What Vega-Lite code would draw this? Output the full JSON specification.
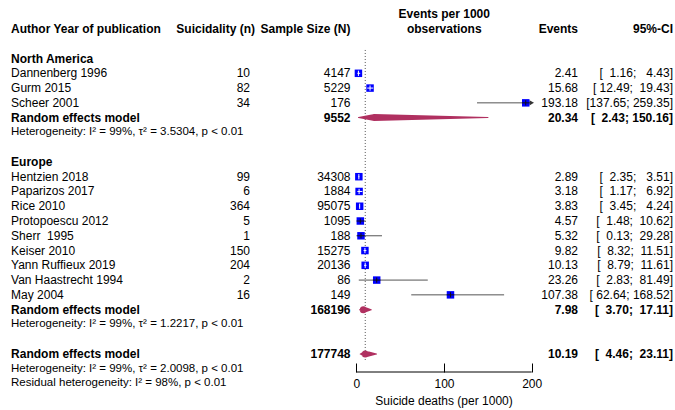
{
  "$schema": "https://vega.github.io/schema/vega-lite/v6.json",
  "width": 675,
  "height": 372,
  "autosize": {"type": "none"},
  "padding": {"left": 0, "right": 0, "top": 0, "bottom": 38},
  "config": {
    "view": {"stroke": null},
    "text": {"font": "Liberation Sans", "fontSize": 12, "color": "black", "baseline": "middle"},
    "axis": {"labelFont": "Liberation Sans"}
  },
  "data": {
    "values": [
      {"row": 0, "kind": "header", "label": "Author Year of publication", "N": "Sample Size (N)", "ev": "Events", "ci": "95%-CI"},
      {"row": 2, "kind": "group", "label": "North America"},
      {"row": 3, "kind": "study", "label": "Dannenberg 1996", "n": "10", "N": "4147", "est": 2.41, "lo": 1.16, "hi": 4.43, "ev": "2.41", "ci": "[\u00a0\u00a01.16;\u00a0\u00a0\u00a04.43]"},
      {"row": 4, "kind": "study", "label": "Gurm 2015", "n": "82", "N": "5229", "est": 15.68, "lo": 12.49, "hi": 19.43, "ev": "15.68", "ci": "[\u00a012.49;\u00a0\u00a019.43]"},
      {"row": 5, "kind": "study", "label": "Scheer 2001", "n": "34", "N": "176", "est": 193.18, "lo": 137.65, "hi": 259.35, "ev": "193.18", "ci": "[137.65;\u00a0259.35]"},
      {"row": 6, "kind": "model", "label": "Random effects model", "N": "9552", "est": 20.34, "lo": 2.43, "hi": 150.16, "ev": "20.34", "ci": "[\u00a0\u00a02.43;\u00a0150.16]"},
      {"row": 7, "kind": "het", "label": "Heterogeneity: I² = 99%, τ² = 3.5304, p < 0.01"},
      {"row": 9, "kind": "group", "label": "Europe"},
      {"row": 10, "kind": "study", "label": "Hentzien 2018", "n": "99", "N": "34308", "est": 2.89, "lo": 2.35, "hi": 3.51, "ev": "2.89", "ci": "[\u00a0\u00a02.35;\u00a0\u00a0\u00a03.51]"},
      {"row": 11, "kind": "study", "label": "Paparizos 2017", "n": "6", "N": "1884", "est": 3.18, "lo": 1.17, "hi": 6.92, "ev": "3.18", "ci": "[\u00a0\u00a01.17;\u00a0\u00a0\u00a06.92]"},
      {"row": 12, "kind": "study", "label": "Rice 2010", "n": "364", "N": "95075", "est": 3.83, "lo": 3.45, "hi": 4.24, "ev": "3.83", "ci": "[\u00a0\u00a03.45;\u00a0\u00a0\u00a04.24]"},
      {"row": 13, "kind": "study", "label": "Protopoescu 2012", "n": "5", "N": "1095", "est": 4.57, "lo": 1.48, "hi": 10.62, "ev": "4.57", "ci": "[\u00a0\u00a01.48;\u00a0\u00a010.62]"},
      {"row": 14, "kind": "study", "label": "Sherr\u00a0 1995", "n": "1", "N": "188", "est": 5.32, "lo": 0.13, "hi": 29.28, "ev": "5.32", "ci": "[\u00a0\u00a00.13;\u00a0\u00a029.28]"},
      {"row": 15, "kind": "study", "label": "Keiser 2010", "n": "150", "N": "15275", "est": 9.82, "lo": 8.32, "hi": 11.51, "ev": "9.82", "ci": "[\u00a0\u00a08.32;\u00a0\u00a011.51]"},
      {"row": 16, "kind": "study", "label": "Yann Ruffieux 2019", "n": "204", "N": "20136", "est": 10.13, "lo": 8.79, "hi": 11.61, "ev": "10.13", "ci": "[\u00a0\u00a08.79;\u00a0\u00a011.61]"},
      {"row": 17, "kind": "study", "label": "Van Haastrecht 1994", "n": "2", "N": "86", "est": 23.26, "lo": 2.83, "hi": 81.49, "ev": "23.26", "ci": "[\u00a0\u00a02.83;\u00a0\u00a081.49]"},
      {"row": 18, "kind": "study", "label": "May 2004", "n": "16", "N": "149", "est": 107.38, "lo": 62.64, "hi": 168.52, "ev": "107.38", "ci": "[\u00a062.64;\u00a0168.52]"},
      {"row": 19, "kind": "model", "label": "Random effects model", "N": "168196", "est": 7.98, "lo": 3.70, "hi": 17.11, "ev": "7.98", "ci": "[\u00a0\u00a03.70;\u00a0\u00a017.11]"},
      {"row": 20, "kind": "het", "label": "Heterogeneity: I² = 99%, τ² = 1.2217, p < 0.01"},
      {"row": 22, "kind": "model", "label": "Random effects model", "N": "177748", "est": 10.19, "lo": 4.46, "hi": 23.11, "ev": "10.19", "ci": "[\u00a0\u00a04.46;\u00a0\u00a023.11]"},
      {"row": 23, "kind": "het", "label": "Heterogeneity: I² = 99%, τ² = 2.0098, p < 0.01"},
      {"row": 24, "kind": "het", "label": "Residual heterogeneity: I² = 98%, p < 0.01"}
    ]
  },
  "layer": [
    {
      "data": {"values": [{"ref": 10.19}]},
      "mark": {"type": "rule", "strokeDash": [1, 2], "color": "#555555", "strokeWidth": 1},
      "encoding": {
        "x": {"field": "ref", "type": "quantitative", "scale": {"domain": [-406.3, 363.4], "nice": false, "zero": false}, "axis": {"values": [0, 100, 200], "domain": false, "grid": false, "tickSize": -9, "tickColor": "black", "labelFontSize": 12, "labelColor": "black", "labelPadding": 15, "title": null, "labelFont": "Liberation Sans"}},
        "y": {"datum": 1.42, "type": "quantitative", "scale": {"domain": [-1.9635, 23.223], "nice": false, "zero": false, "reverse": true}, "axis": null},
        "y2": {"datum": 22.5}
      }
    },
    {
      "data": {"values": [{"a": 0, "b": 200}]},
      "mark": {"type": "rule", "color": "black", "strokeWidth": 1},
      "encoding": {
        "x": {"field": "a", "type": "quantitative", "scale": {"domain": [-406.3, 363.4], "nice": false, "zero": false}, "axis": {"values": [0, 100, 200], "domain": false, "grid": false, "tickSize": -9, "tickColor": "black", "labelFontSize": 12, "labelColor": "black", "labelPadding": 15, "title": null, "labelFont": "Liberation Sans"}},
        "x2": {"field": "b"},
        "y": {"datum": 23.223, "type": "quantitative", "scale": {"domain": [-1.9635, 23.223], "nice": false, "zero": false, "reverse": true}, "axis": null}
      }
    },
    {
      "transform": [{"filter": "datum.kind === 'study'"}, {"calculate": "min(datum.hi, 200)", "as": "hic"}],
      "mark": {"type": "rule", "color": "#555555", "strokeWidth": 1},
      "encoding": {
        "x": {"field": "lo", "type": "quantitative", "scale": {"domain": [-406.3, 363.4], "nice": false, "zero": false}, "axis": {"values": [0, 100, 200], "domain": false, "grid": false, "tickSize": -9, "tickColor": "black", "labelFontSize": 12, "labelColor": "black", "labelPadding": 15, "title": null, "labelFont": "Liberation Sans"}},
        "x2": {"field": "hic"},
        "y": {"field": "row", "type": "quantitative", "scale": {"domain": [-1.9635, 23.223], "nice": false, "zero": false, "reverse": true}, "axis": null}
      }
    },
    {
      "transform": [{"filter": "datum.kind === 'study' && datum.hi > 200"}],
      "mark": {"type": "point", "shape": "triangle-right", "filled": true, "color": "#333333", "size": 28, "opacity": 1},
      "encoding": {
        "x": {"datum": 200, "type": "quantitative", "scale": {"domain": [-406.3, 363.4], "nice": false, "zero": false}, "axis": {"values": [0, 100, 200], "domain": false, "grid": false, "tickSize": -9, "tickColor": "black", "labelFontSize": 12, "labelColor": "black", "labelPadding": 15, "title": null, "labelFont": "Liberation Sans"}},
        "y": {"field": "row", "type": "quantitative", "scale": {"domain": [-1.9635, 23.223], "nice": false, "zero": false, "reverse": true}, "axis": null}
      }
    },
    {
      "transform": [{"filter": "datum.kind === 'study'"}],
      "mark": {"type": "point", "shape": "square", "filled": true, "color": "#0000ff", "size": 56, "opacity": 1},
      "encoding": {
        "x": {"field": "est", "type": "quantitative", "scale": {"domain": [-406.3, 363.4], "nice": false, "zero": false}, "axis": {"values": [0, 100, 200], "domain": false, "grid": false, "tickSize": -9, "tickColor": "black", "labelFontSize": 12, "labelColor": "black", "labelPadding": 15, "title": null, "labelFont": "Liberation Sans"}},
        "y": {"field": "row", "type": "quantitative", "scale": {"domain": [-1.9635, 23.223], "nice": false, "zero": false, "reverse": true}, "axis": null}
      }
    },
    {
      "transform": [{"filter": "datum.kind === 'study' && (datum.hi - datum.est) < 4.2 && (datum.est - datum.lo) < 4.2"}],
      "mark": {"type": "rule", "color": "white", "strokeWidth": 1},
      "encoding": {
        "x": {"field": "lo", "type": "quantitative", "scale": {"domain": [-406.3, 363.4], "nice": false, "zero": false}, "axis": {"values": [0, 100, 200], "domain": false, "grid": false, "tickSize": -9, "tickColor": "black", "labelFontSize": 12, "labelColor": "black", "labelPadding": 15, "title": null, "labelFont": "Liberation Sans"}},
        "x2": {"field": "hi"},
        "y": {"field": "row", "type": "quantitative", "scale": {"domain": [-1.9635, 23.223], "nice": false, "zero": false, "reverse": true}, "axis": null}
      }
    },
    {
      "transform": [{"filter": "datum.kind === 'study' && (datum.hi - datum.est) < 4.2 && (datum.est - datum.lo) < 4.2"}],
      "mark": {"type": "point", "shape": "M0,-0.7L0,0.7", "filled": false, "stroke": "white", "strokeWidth": 1, "size": 56, "opacity": 1},
      "encoding": {
        "x": {"field": "est", "type": "quantitative", "scale": {"domain": [-406.3, 363.4], "nice": false, "zero": false}, "axis": {"values": [0, 100, 200], "domain": false, "grid": false, "tickSize": -9, "tickColor": "black", "labelFontSize": 12, "labelColor": "black", "labelPadding": 15, "title": null, "labelFont": "Liberation Sans"}},
        "y": {"field": "row", "type": "quantitative", "scale": {"domain": [-1.9635, 23.223], "nice": false, "zero": false, "reverse": true}, "axis": null}
      }
    },
    {
      "transform": [{"filter": "datum.kind === 'study' && !((datum.hi - datum.est) < 4.2 && (datum.est - datum.lo) < 4.2)"}],
      "mark": {"type": "point", "shape": "M-1,0L1,0M0,-0.7L0,0.7", "filled": false, "stroke": "#111111", "strokeWidth": 1, "size": 56, "opacity": 1},
      "encoding": {
        "x": {"field": "est", "type": "quantitative", "scale": {"domain": [-406.3, 363.4], "nice": false, "zero": false}, "axis": {"values": [0, 100, 200], "domain": false, "grid": false, "tickSize": -9, "tickColor": "black", "labelFontSize": 12, "labelColor": "black", "labelPadding": 15, "title": null, "labelFont": "Liberation Sans"}},
        "y": {"field": "row", "type": "quantitative", "scale": {"domain": [-1.9635, 23.223], "nice": false, "zero": false, "reverse": true}, "axis": null}
      }
    },
    {
      "transform": [{"filter": "datum.kind === 'model'"}, {"fold": ["lo", "est", "hi"], "as": ["role", "xv"]}],
      "mark": {"type": "trail", "color": "#B03060", "opacity": 1},
      "encoding": {
        "x": {"field": "xv", "type": "quantitative", "scale": {"domain": [-406.3, 363.4], "nice": false, "zero": false}, "axis": {"values": [0, 100, 200], "domain": false, "grid": false, "tickSize": -9, "tickColor": "black", "labelFontSize": 12, "labelColor": "black", "labelPadding": 15, "title": null, "labelFont": "Liberation Sans"}},
        "y": {"field": "row", "type": "quantitative", "scale": {"domain": [-1.9635, 23.223], "nice": false, "zero": false, "reverse": true}, "axis": null},
        "detail": {"field": "row", "type": "nominal"},
        "order": {"field": "xv", "type": "quantitative"},
        "size": {"condition": {"test": "datum.role === 'est'", "value": 7}, "value": 0}
      }
    },
    {
      "transform": [{"filter": "datum.kind === 'study'"}],
      "mark": {"type": "text", "align": "left"},
      "encoding": {
        "x": {"datum": -393.7, "type": "quantitative", "scale": {"domain": [-406.3, 363.4], "nice": false, "zero": false}, "axis": {"values": [0, 100, 200], "domain": false, "grid": false, "tickSize": -9, "tickColor": "black", "labelFontSize": 12, "labelColor": "black", "labelPadding": 15, "title": null, "labelFont": "Liberation Sans"}},
        "y": {"field": "row", "type": "quantitative", "scale": {"domain": [-1.9635, 23.223], "nice": false, "zero": false, "reverse": true}, "axis": null},
        "text": {"field": "label"}
      }
    },
    {
      "transform": [{"filter": "datum.kind === 'group' || datum.kind === 'model' || datum.kind === 'header'"}],
      "mark": {"type": "text", "align": "left", "fontWeight": "bold"},
      "encoding": {
        "x": {"datum": -393.7, "type": "quantitative", "scale": {"domain": [-406.3, 363.4], "nice": false, "zero": false}, "axis": {"values": [0, 100, 200], "domain": false, "grid": false, "tickSize": -9, "tickColor": "black", "labelFontSize": 12, "labelColor": "black", "labelPadding": 15, "title": null, "labelFont": "Liberation Sans"}},
        "y": {"field": "row", "type": "quantitative", "scale": {"domain": [-1.9635, 23.223], "nice": false, "zero": false, "reverse": true}, "axis": null},
        "text": {"field": "label"}
      }
    },
    {
      "transform": [{"filter": "datum.kind === 'het'"}],
      "mark": {"type": "text", "align": "left", "fontSize": 11.5},
      "encoding": {
        "x": {"datum": -393.7, "type": "quantitative", "scale": {"domain": [-406.3, 363.4], "nice": false, "zero": false}, "axis": {"values": [0, 100, 200], "domain": false, "grid": false, "tickSize": -9, "tickColor": "black", "labelFontSize": 12, "labelColor": "black", "labelPadding": 15, "title": null, "labelFont": "Liberation Sans"}},
        "y": {"field": "row", "type": "quantitative", "scale": {"domain": [-1.9635, 23.223], "nice": false, "zero": false, "reverse": true}, "axis": null},
        "text": {"field": "label"}
      }
    },
    {
      "transform": [{"filter": "isValid(datum.n)"}],
      "mark": {"type": "text", "align": "right"},
      "encoding": {
        "x": {"datum": -121.2, "type": "quantitative", "scale": {"domain": [-406.3, 363.4], "nice": false, "zero": false}, "axis": {"values": [0, 100, 200], "domain": false, "grid": false, "tickSize": -9, "tickColor": "black", "labelFontSize": 12, "labelColor": "black", "labelPadding": 15, "title": null, "labelFont": "Liberation Sans"}},
        "y": {"field": "row", "type": "quantitative", "scale": {"domain": [-1.9635, 23.223], "nice": false, "zero": false, "reverse": true}, "axis": null},
        "text": {"field": "n"}
      }
    },
    {
      "transform": [{"filter": "datum.kind === 'study'"}],
      "mark": {"type": "text", "align": "right"},
      "encoding": {
        "x": {"datum": -6.6, "type": "quantitative", "scale": {"domain": [-406.3, 363.4], "nice": false, "zero": false}, "axis": {"values": [0, 100, 200], "domain": false, "grid": false, "tickSize": -9, "tickColor": "black", "labelFontSize": 12, "labelColor": "black", "labelPadding": 15, "title": null, "labelFont": "Liberation Sans"}},
        "y": {"field": "row", "type": "quantitative", "scale": {"domain": [-1.9635, 23.223], "nice": false, "zero": false, "reverse": true}, "axis": null},
        "text": {"field": "N"}
      }
    },
    {
      "transform": [{"filter": "datum.kind === 'model' || datum.kind === 'header'"}],
      "mark": {"type": "text", "align": "right", "fontWeight": "bold"},
      "encoding": {
        "x": {"datum": -6.6, "type": "quantitative", "scale": {"domain": [-406.3, 363.4], "nice": false, "zero": false}, "axis": {"values": [0, 100, 200], "domain": false, "grid": false, "tickSize": -9, "tickColor": "black", "labelFontSize": 12, "labelColor": "black", "labelPadding": 15, "title": null, "labelFont": "Liberation Sans"}},
        "y": {"field": "row", "type": "quantitative", "scale": {"domain": [-1.9635, 23.223], "nice": false, "zero": false, "reverse": true}, "axis": null},
        "text": {"field": "N"}
      }
    },
    {
      "transform": [{"filter": "datum.kind === 'study'"}],
      "mark": {"type": "text", "align": "right"},
      "encoding": {
        "x": {"datum": 252.8, "type": "quantitative", "scale": {"domain": [-406.3, 363.4], "nice": false, "zero": false}, "axis": {"values": [0, 100, 200], "domain": false, "grid": false, "tickSize": -9, "tickColor": "black", "labelFontSize": 12, "labelColor": "black", "labelPadding": 15, "title": null, "labelFont": "Liberation Sans"}},
        "y": {"field": "row", "type": "quantitative", "scale": {"domain": [-1.9635, 23.223], "nice": false, "zero": false, "reverse": true}, "axis": null},
        "text": {"field": "ev"}
      }
    },
    {
      "transform": [{"filter": "datum.kind === 'model' || datum.kind === 'header'"}],
      "mark": {"type": "text", "align": "right", "fontWeight": "bold"},
      "encoding": {
        "x": {"datum": 252.8, "type": "quantitative", "scale": {"domain": [-406.3, 363.4], "nice": false, "zero": false}, "axis": {"values": [0, 100, 200], "domain": false, "grid": false, "tickSize": -9, "tickColor": "black", "labelFontSize": 12, "labelColor": "black", "labelPadding": 15, "title": null, "labelFont": "Liberation Sans"}},
        "y": {"field": "row", "type": "quantitative", "scale": {"domain": [-1.9635, 23.223], "nice": false, "zero": false, "reverse": true}, "axis": null},
        "text": {"field": "ev"}
      }
    },
    {
      "transform": [{"filter": "datum.kind === 'study'"}],
      "mark": {"type": "text", "align": "right"},
      "encoding": {
        "x": {"datum": 361.1, "type": "quantitative", "scale": {"domain": [-406.3, 363.4], "nice": false, "zero": false}, "axis": {"values": [0, 100, 200], "domain": false, "grid": false, "tickSize": -9, "tickColor": "black", "labelFontSize": 12, "labelColor": "black", "labelPadding": 15, "title": null, "labelFont": "Liberation Sans"}},
        "y": {"field": "row", "type": "quantitative", "scale": {"domain": [-1.9635, 23.223], "nice": false, "zero": false, "reverse": true}, "axis": null},
        "text": {"field": "ci"}
      }
    },
    {
      "transform": [{"filter": "datum.kind === 'model' || datum.kind === 'header'"}],
      "mark": {"type": "text", "align": "right", "fontWeight": "bold"},
      "encoding": {
        "x": {"datum": 361.1, "type": "quantitative", "scale": {"domain": [-406.3, 363.4], "nice": false, "zero": false}, "axis": {"values": [0, 100, 200], "domain": false, "grid": false, "tickSize": -9, "tickColor": "black", "labelFontSize": 12, "labelColor": "black", "labelPadding": 15, "title": null, "labelFont": "Liberation Sans"}},
        "y": {"field": "row", "type": "quantitative", "scale": {"domain": [-1.9635, 23.223], "nice": false, "zero": false, "reverse": true}, "axis": null},
        "text": {"field": "ci"}
      }
    },
    {
      "data": {"values": [{"t": "Suicidality (n)", "row": 0}]},
      "mark": {"type": "text", "align": "right", "fontWeight": "bold"},
      "encoding": {
        "x": {"datum": -115.5, "type": "quantitative", "scale": {"domain": [-406.3, 363.4], "nice": false, "zero": false}, "axis": {"values": [0, 100, 200], "domain": false, "grid": false, "tickSize": -9, "tickColor": "black", "labelFontSize": 12, "labelColor": "black", "labelPadding": 15, "title": null, "labelFont": "Liberation Sans"}},
        "y": {"field": "row", "type": "quantitative", "scale": {"domain": [-1.9635, 23.223], "nice": false, "zero": false, "reverse": true}, "axis": null},
        "text": {"field": "t"}
      }
    },
    {
      "data": {"values": [{"t": "Events per 1000", "row": -1}, {"t": "observations", "row": 0}]},
      "mark": {"type": "text", "align": "center", "fontWeight": "bold"},
      "encoding": {
        "x": {"datum": 100.3, "type": "quantitative", "scale": {"domain": [-406.3, 363.4], "nice": false, "zero": false}, "axis": {"values": [0, 100, 200], "domain": false, "grid": false, "tickSize": -9, "tickColor": "black", "labelFontSize": 12, "labelColor": "black", "labelPadding": 15, "title": null, "labelFont": "Liberation Sans"}},
        "y": {"field": "row", "type": "quantitative", "scale": {"domain": [-1.9635, 23.223], "nice": false, "zero": false, "reverse": true}, "axis": null},
        "text": {"field": "t"}
      }
    },
    {
      "data": {"values": [{"t": "Suicide deaths (per 1000)", "row": 25.19}]},
      "mark": {"type": "text", "align": "center"},
      "encoding": {
        "x": {"datum": 100, "type": "quantitative", "scale": {"domain": [-406.3, 363.4], "nice": false, "zero": false}, "axis": {"values": [0, 100, 200], "domain": false, "grid": false, "tickSize": -9, "tickColor": "black", "labelFontSize": 12, "labelColor": "black", "labelPadding": 15, "title": null, "labelFont": "Liberation Sans"}},
        "y": {"field": "row", "type": "quantitative", "scale": {"domain": [-1.9635, 23.223], "nice": false, "zero": false, "reverse": true}, "axis": null},
        "text": {"field": "t"}
      }
    }
  ]
}
